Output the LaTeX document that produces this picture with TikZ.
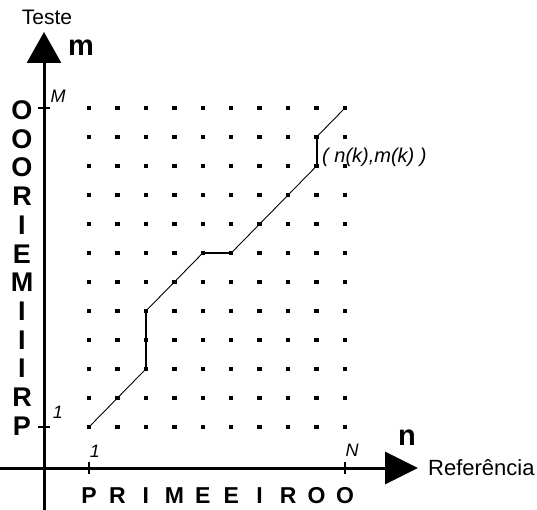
\documentclass[tikz,border=0pt]{standalone}
\usepackage{fontspec}
\setmainfont{Liberation Sans}
\usetikzlibrary{arrows.meta}
\begin{document}
\begin{tikzpicture}[x=1pt,y=-1pt,
  gdot/.style={rectangle,fill=black,minimum size=4.5pt,inner sep=0pt,outer sep=0pt},
  axisline/.style={line width=3pt},
  tickmark/.style={line width=1.4pt},
  warp/.style={line width=0.9pt},
  warpstep/.style={line width=2pt},
  big/.style={font=\fontsize{27}{27}\selectfont\bfseries,inner sep=0pt},
  bigx/.style={font=\fontsize{23}{23}\selectfont\bfseries,inner sep=0pt},
  axname/.style={font=\fontsize{29}{29}\selectfont\bfseries,inner sep=0pt},
  lab/.style={font=\fontsize{21}{21}\selectfont,inner sep=0pt},
  ilab/.style={font=\fontsize{18}{18}\selectfont\itshape,inner sep=0pt}]
\useasboundingbox (0,0) rectangle (537,510);
% grid of points
\foreach \i in {0,...,9}{\foreach \j in {0,...,11}{
  \node[gdot] (d-\i-\j) at ({89+\i*28.444},{427-\j*29}) {};}}
% axes
\coordinate (ybot) at (44,510);
\coordinate (ytop) at (44,32);
\coordinate (xl) at (0,468);
\coordinate (xr) at (418,468);
\draw[axisline,-{Triangle[length=31pt,width=34pt]}] (ybot) -- (ytop);
\draw[axisline,-{Triangle[length=33pt,width=32pt]}] (xl) -- (xr);
% ticks
\coordinate (ty1a) at (38,427); \coordinate (ty1b) at (50,427);
\coordinate (tyMa) at (38,108); \coordinate (tyMb) at (50,108);
\coordinate (tx1a) at (89,462); \coordinate (tx1b) at (89,474);
\coordinate (txNa) at (345,462); \coordinate (txNb) at (345,474);
\draw[tickmark] (ty1a) -- (ty1b);
\draw[tickmark] (tyMa) -- (tyMb);
\draw[tickmark] (tx1a) -- (tx1b);
\draw[tickmark] (txNa) -- (txNb);
% warping path
\draw[warp] (d-0-0.center) -- (d-1-1.center) -- (d-2-2.center) -- (d-2-3.center)
  -- (d-2-4.center) -- (d-3-5.center) -- (d-4-6.center) -- (d-5-6.center)
  -- (d-6-7.center) -- (d-7-8.center) -- (d-8-9.center) -- (d-8-10.center)
  -- (d-9-11.center);
\draw[warpstep] (d-2-2.center) -- (d-2-4.center);
\draw[warpstep] (d-4-6.center) -- (d-5-6.center);
\draw[warpstep] (d-8-9.center) -- (d-8-10.center);
% labels
\node[lab] (teste) at (47,17) {Teste};
\node[axname] (lm) at (81,48) {m};
\node[axname] (ln) at (407,438) {n};
\node[lab,font=\fontsize{22}{22}\selectfont,anchor=west] (ref) at (428,468) {Referência};
\node[ilab] (lM) at (58,96) {M};
\node[ilab] (l1y) at (58,412) {1};
\node[ilab] (l1x) at (95,451) {1};
\node[ilab] (lN) at (352,450) {N};
\node[ilab,font=\fontsize{20}{20}\selectfont\itshape,anchor=west] (lnk) at (322,157) {( n(k),m(k) )};
% sequences
\foreach \c [count=\k from 0] in {P,R,I,I,I,M,E,I,R,O,O,O}
  \node[big] (L\k) at (22,{426-\k*28.7}) {\c};
\foreach \c [count=\k from 0] in {P,R,I,M,E,E,I,R,O,O}
  \node[bigx] (B\k) at ({89+\k*28.444},496) {\c};
\end{tikzpicture}
\end{document}
